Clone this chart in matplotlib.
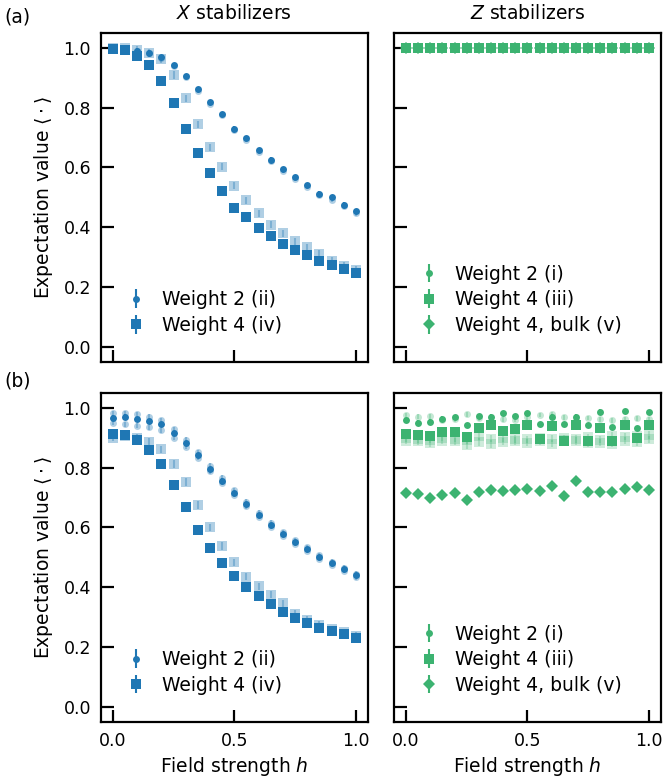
import numpy as np
import matplotlib
matplotlib.use('Agg')
import matplotlib.pyplot as plt

# field strength values
h = np.round(np.arange(0, 1.0001, 0.05), 2)

# (a) ideal -- X stabilizers
xa_w2 = [1.0, 1.0, 0.991, 0.984, 0.969, 0.942, 0.906, 0.861, 0.818, 0.779, 0.730,
         0.697, 0.658, 0.626, 0.594, 0.567, 0.540, 0.513, 0.500, 0.476, 0.453]
xa_w2_b = [1.0, 1.0, 0.990, 0.982, 0.966, 0.938, 0.902, 0.857, 0.813, 0.774, 0.724,
           0.692, 0.653, 0.621, 0.589, 0.562, 0.535, 0.508, 0.493, 0.470, 0.447]
xa_w4 = [0.997, 0.993, 0.974, 0.941, 0.888, 0.817, 0.729, 0.650, 0.583, 0.521, 0.466,
         0.434, 0.398, 0.372, 0.345, 0.324, 0.308, 0.289, 0.274, 0.262, 0.248]
xa_w4_b = [1.0, 0.999, 0.993, 0.983, 0.963, 0.909, 0.831, 0.745, 0.667, 0.602, 0.539,
           0.490, 0.447, 0.409, 0.380, 0.353, 0.333, 0.311, 0.289, 0.272, 0.258]

# (a) ideal -- Z stabilizers
za_w2 = [1.0] * 21
za_w4 = [1.0] * 21
za_bulk = [1.0] * 21

# (b) noisy -- X stabilizers
xb_w2 = [0.967, 0.970, 0.962, 0.955, 0.945, 0.915, 0.881, 0.841, 0.795, 0.756, 0.715,
         0.677, 0.641, 0.608, 0.578, 0.551, 0.528, 0.501, 0.480, 0.460, 0.440]
xb_w2_b = [0.982, 0.982, 0.978, 0.970, 0.958, 0.928, 0.893, 0.852, 0.806, 0.766, 0.724,
           0.686, 0.650, 0.616, 0.585, 0.558, 0.534, 0.507, 0.486, 0.466, 0.446]
xb_w2_c = [0.950, 0.945, 0.940, 0.935, 0.925, 0.900, 0.870, 0.832, 0.788, 0.749, 0.709,
           0.671, 0.636, 0.603, 0.573, 0.546, 0.523, 0.496, 0.475, 0.455, 0.434]
xb_w4 = [0.914, 0.908, 0.891, 0.858, 0.813, 0.743, 0.667, 0.593, 0.533, 0.482, 0.438,
         0.401, 0.371, 0.343, 0.319, 0.296, 0.280, 0.263, 0.254, 0.243, 0.230]
xb_w4_b = [0.900, 0.905, 0.900, 0.886, 0.861, 0.812, 0.752, 0.675, 0.601, 0.538, 0.483,
           0.436, 0.403, 0.375, 0.346, 0.312, 0.291, 0.275, 0.260, 0.250, 0.238]

# (b) noisy -- Z stabilizers
zb_w2 = [0.958, 0.950, 0.954, 0.964, 0.969, 0.942, 0.973, 0.970, 0.982, 0.973, 0.982,
         0.945, 0.970, 0.945, 0.971, 0.942, 0.987, 0.936, 0.988, 0.931, 0.985]
zb_w2_b = [0.975, 0.970, 0.972, 0.960, 0.962, 0.978, 0.965, 0.957, 0.962, 0.960, 0.968,
           0.976, 0.978, 0.968, 0.960, 0.966, 0.962, 0.958, 0.962, 0.965, 0.962]
zb_w4 = [0.911, 0.908, 0.906, 0.918, 0.918, 0.901, 0.934, 0.944, 0.924, 0.928, 0.944,
         0.896, 0.940, 0.890, 0.944, 0.890, 0.931, 0.890, 0.941, 0.899, 0.941]
zb_w4_b = [0.898, 0.895, 0.881, 0.900, 0.897, 0.876, 0.905, 0.879, 0.899, 0.896, 0.884,
           0.899, 0.897, 0.891, 0.896, 0.902, 0.884, 0.906, 0.903, 0.905, 0.909]
zb_w4_c = [0.890, 0.888, 0.893, 0.890, 0.888, 0.892, 0.886, 0.897, 0.887, 0.889, 0.895,
           0.888, 0.880, 0.898, 0.889, 0.882, 0.893, 0.880, 0.890, 0.886, 0.895]
zb_bulk = [0.715, 0.713, 0.698, 0.709, 0.715, 0.693, 0.718, 0.724, 0.722, 0.724, 0.728,
           0.723, 0.738, 0.705, 0.756, 0.718, 0.720, 0.719, 0.729, 0.735, 0.725]

err_w2 = 0.008
err_w4 = 0.012

blue = '#1f77b4'
green = '#3cb371'
fs = 13.5

plt.rcParams['font.size'] = fs
plt.rcParams['axes.linewidth'] = 1.6

fig, axs = plt.subplots(2, 2, figsize=(6.63, 7.83), dpi=100, sharex=True, sharey=True)
plt.subplots_adjust(left=0.152, right=0.997, top=0.958, bottom=0.078,
                    wspace=0.097, hspace=0.094)

def ebar(ax, y, err, color, fmt, ms, alpha=1.0, label=None):
    ax.errorbar(h, y, yerr=err, fmt=fmt, color=color, ms=ms, alpha=alpha,
                elinewidth=1.5, capsize=0, label=label, mew=0)

# faint markers: the other stabilizers of the same type
ebar(axs[0, 0], xa_w4_b, err_w4, blue, 's', 7.5, alpha=0.35)
ebar(axs[0, 0], xa_w2_b, err_w2, blue, 'o', 5, alpha=0.35)
ebar(axs[1, 0], xb_w4_b, err_w4, blue, 's', 7.5, alpha=0.35)
ebar(axs[1, 0], xb_w2_b, err_w2, blue, 'o', 5, alpha=0.35)
ebar(axs[1, 0], xb_w2_c, err_w2, blue, 'o', 5, alpha=0.35)

ebar(axs[0, 0], xa_w2, err_w2, blue, 'o', 5, label='Weight 2 (ii)')
ebar(axs[0, 0], xa_w4, err_w4, blue, 's', 7.5, label='Weight 4 (iv)')
ebar(axs[1, 0], xb_w2, err_w2, blue, 'o', 5, label='Weight 2 (ii)')
ebar(axs[1, 0], xb_w4, err_w4, blue, 's', 7.5, label='Weight 4 (iv)')

ebar(axs[0, 1], za_w2, err_w2, green, 'o', 5, label='Weight 2 (i)')
ebar(axs[0, 1], za_w4, err_w4, green, 's', 7.5, label='Weight 4 (iii)')
ebar(axs[0, 1], za_bulk, err_w4, green, 'D', 6.5, label='Weight 4, bulk (v)')

ebar(axs[1, 1], zb_w4_c, err_w4, green, 's', 7.5, alpha=0.25)
ebar(axs[1, 1], zb_w4_b, err_w4, green, 's', 7.5, alpha=0.25)
ebar(axs[1, 1], zb_w2_b, err_w2, green, 'o', 5, alpha=0.3)
ebar(axs[1, 1], zb_w2, err_w2, green, 'o', 5, label='Weight 2 (i)')
ebar(axs[1, 1], zb_w4, err_w4, green, 's', 7.5, label='Weight 4 (iii)')
ebar(axs[1, 1], zb_bulk, err_w4, green, 'D', 6.5, label='Weight 4, bulk (v)')

for ax in axs.flat:
    ax.set_xlim(-0.05, 1.05)
    ax.set_ylim(-0.05, 1.05)
    ax.set_xticks([0.0, 0.5, 1.0])
    ax.set_yticks([0.0, 0.2, 0.4, 0.6, 0.8, 1.0])
    ax.tick_params(direction='in', length=9, width=1.6, labelsize=12.5, pad=7)
    ax.legend(loc='lower left', frameon=False, fontsize=fs, borderaxespad=0,
              bbox_to_anchor=(0.046, 0.06), handlelength=1.6,
              handletextpad=0.6, labelspacing=0.35)

for ax in axs[:, 0]:
    ax.set_ylabel(r'Expectation value $\langle\cdot\rangle$', labelpad=6)
for ax in axs[1, :]:
    ax.set_xlabel(r'Field strength $h$')

axs[0, 0].set_title(r'$X$ stabilizers', fontsize=fs, pad=10)
axs[0, 1].set_title(r'$Z$ stabilizers', fontsize=fs, pad=10)

fig.text(0.006, 0.978, '(a)', fontsize=fs, va='center')
fig.text(0.006, 0.513, '(b)', fontsize=fs, va='center')

fig.savefig('out.png', dpi=100)
